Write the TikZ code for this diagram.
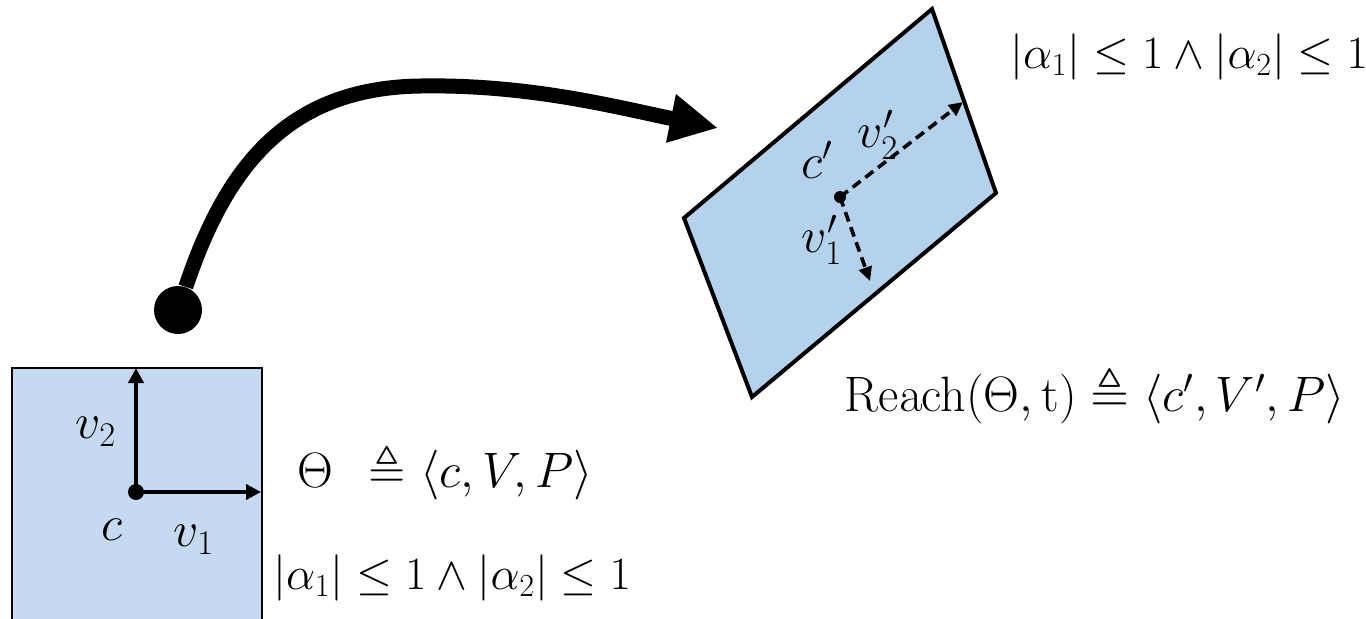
\documentclass[tikz,border=0pt]{standalone}
\usepackage{amsmath,amssymb}
\usetikzlibrary{arrows.meta}
\definecolor{boxblue}{RGB}{197,218,240}
\definecolor{setblue}{RGB}{180,210,236}
\tikzset{
  initset/.style ={draw=black, line width=1.2pt, fill=boxblue},
  reachset/.style={draw=black, line width=2pt, fill=setblue},
  vec/.style     ={-{Triangle[length=7.5pt,width=7.5pt]}, line width=2pt},
  dvec/.style    ={-{Triangle[length=7pt,width=6.5pt]}, line width=1.8pt,
                   dash pattern=on 5pt off 3pt},
  ctr/.style     ={circle, fill=black, inner sep=0pt, minimum size=#1},
  flow/.style    ={-{Triangle[length=24pt,width=23pt]}, line width=7.5pt},
  lbl/.style     ={font=\fontsize{24}{28}\selectfont, inner sep=0pt},
  predlbl/.style ={lbl, scale=0.93, transform shape},
}
\begin{document}
\begin{tikzpicture}[x=0.5pt, y=-0.5pt]
\useasboundingbox (0,0) rectangle (1366,618);
% initial set
\draw[initset] (12,368) rectangle (262,630);
\node[ctr=8pt] (c) at (136,492) {};
\coordinate (v1end) at (261,492);
\coordinate (v2end) at (136,368);
\draw[vec] (c.center) -- (v1end);
\draw[vec] (c.center) -- (v2end);
\node[lbl] (v2lbl) at (96,432) {$v_2$};
\node[lbl] (clbl) at (112,530) {$c$};
\node[lbl] (v1lbl) at (194,540) {$v_1$};
\node[lbl] (theta) at (445,472) {$\Theta\;\,\triangleq\langle c,V,P\rangle$};
\node[predlbl] (pred) at (452,578) {$|\alpha_1|\leq 1\wedge|\alpha_2|\leq 1$};
% reached set
\draw[reachset] (932,9) -- (996,193) -- (752,397) -- (684,218) -- cycle;
\node[ctr=6pt] (cp) at (840,197) {};
\coordinate (v1pend) at (870,281);
\coordinate (v2pend) at (963,102);
\draw[dvec] (cp.center) -- (v1pend);
\draw[dvec] (cp.center) -- (v2pend);
\node[lbl] (cplbl) at (817,160) {$c'$};
\node[lbl] (v2plbl) at (878,135) {$v_2'$};
\node[lbl] (v1plbl) at (822,240) {$v_1'$};
\node[lbl, font=\fontsize{25}{29}\selectfont] (reach) at (1095,395)
  {$\mathrm{Reach}(\Theta,\mathrm{t})\triangleq\langle c',V',P\rangle$};
\node[predlbl] (predp) at (1189,57) {$|\alpha_1|\leq 1\wedge|\alpha_2|\leq 1$};
% flow
\node[ctr=24pt] (src) at (178,310) {};
\coordinate (tip) at (718,128);
\draw[flow] (src) .. controls (225,170) and (285,88) .. (420,86)
  .. controls (530,84) and (620,108) .. (tip);
\end{tikzpicture}
\end{document}
